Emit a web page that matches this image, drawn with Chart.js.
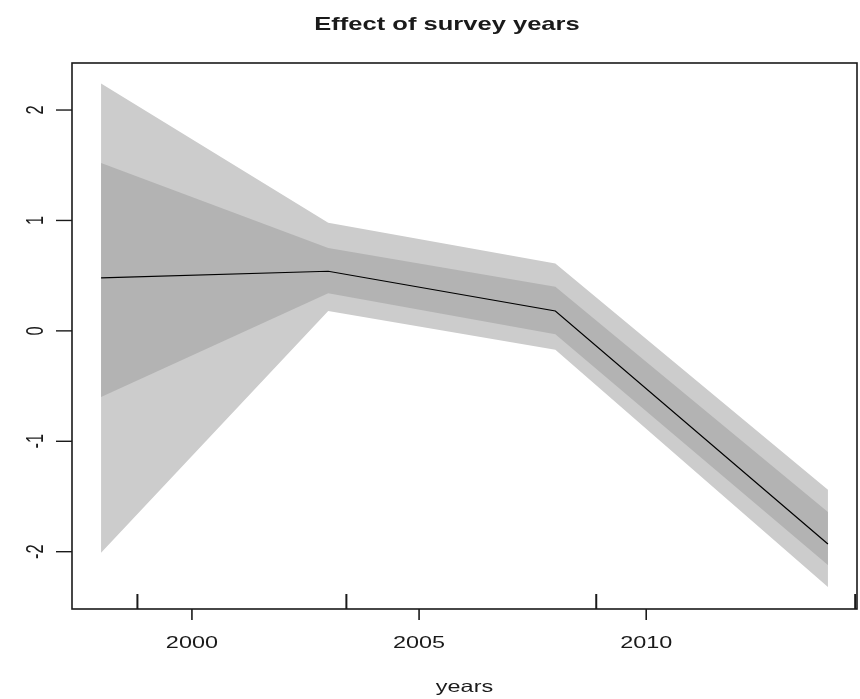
<!DOCTYPE html>
<html>
<head>
<meta charset="utf-8">
<script src="https://cdn.jsdelivr.net/npm/chart.js@4.4.1/dist/chart.umd.min.js"></script>
<style>
  html, body { margin: 0; padding: 0; background: #ffffff; }
  #wrap { width: 860px; height: 699px; position: relative; }
</style>
</head>
<body>
<div id="wrap"><canvas id="c" width="860" height="699"></canvas></div>
<script>
// Survey years and the estimated effect with two confidence bands
const years      = [1998, 2003, 2008, 2014];
const effect     = [0.48, 0.54, 0.18, -1.93];
const innerUpper = [1.52, 0.75, 0.40, -1.64];
const innerLower = [-0.60, 0.34, -0.03, -2.12];
const outerUpper = [2.24, 0.98, 0.61, -1.44];
const outerLower = [-2.01, 0.18, -0.17, -2.32];
// Rug marks along the bottom axis
const rugYears   = [1998.8, 2003.4, 2008.9, 2014.6];
// Axis ticks
const xTicks     = [2000, 2005, 2010];
const yTicks     = [-2, -1, 0, 1, 2];

const title  = 'Effect of survey years';
const xTitle = 'years';

const pts = arr => years.map((yr, i) => ({ x: yr, y: arr[i] }));

const FONT = '"Liberation Sans", Arial, Helvetica, sans-serif';
const SX = 1.42;          // horizontal text stretch
const INK = '#1a1a1a';

function stretchedText(ctx, txt, x, y, sx) {
  ctx.save();
  ctx.translate(x, y);
  ctx.scale(sx, 1);
  ctx.fillText(txt, 0, 0);
  ctx.restore();
}

const frame = {
  id: 'frame',
  afterDraw(chart) {
    const ctx = chart.ctx;
    const a = chart.chartArea;
    const xs = chart.scales.x, ys = chart.scales.y;
    ctx.save();
    ctx.strokeStyle = INK;
    ctx.fillStyle = INK;

    // plot box
    ctx.lineWidth = 1.6;
    ctx.strokeRect(a.left, a.top, a.right - a.left, a.bottom - a.top);

    // x ticks and labels
    ctx.lineWidth = 1.6;
    ctx.font = '16.5px ' + FONT;
    ctx.textAlign = 'center';
    ctx.textBaseline = 'middle';
    xTicks.forEach(v => {
      const px = xs.getPixelForValue(v);
      ctx.beginPath();
      ctx.moveTo(px, a.bottom);
      ctx.lineTo(px, a.bottom + 11);
      ctx.stroke();
      stretchedText(ctx, String(v), px, 643, SX);
    });

    // rug marks
    ctx.lineWidth = 2;
    rugYears.forEach(v => {
      const px = Math.min(xs.getPixelForValue(v), a.right);
      ctx.beginPath();
      ctx.moveTo(px, a.bottom);
      ctx.lineTo(px, a.bottom - 15);
      ctx.stroke();
    });

    // y ticks and rotated labels
    ctx.lineWidth = 1.4;
    yTicks.forEach(v => {
      const py = ys.getPixelForValue(v);
      ctx.beginPath();
      ctx.moveTo(a.left - 16, py);
      ctx.lineTo(a.left, py);
      ctx.stroke();
      ctx.save();
      ctx.translate(37, py);
      ctx.scale(SX, 1);
      ctx.rotate(-Math.PI / 2);
      ctx.fillText(String(v), 0, 0);
      ctx.restore();
    });

    // axis title
    stretchedText(ctx, xTitle, (a.left + a.right) / 2, 687, SX);

    // main title
    ctx.font = 'bold 18.5px ' + FONT;
    stretchedText(ctx, title, 447, 25, 1.38);
    ctx.restore();
  }
};

new Chart(document.getElementById('c'), {
  type: 'line',
  data: {
    datasets: [
      { data: pts(effect), borderColor: '#000000', borderWidth: 1.2, pointRadius: 0, fill: false, tension: 0 },
      { data: pts(innerUpper), borderWidth: 0, borderColor: 'rgba(0,0,0,0)', backgroundColor: '#b3b3b3', pointRadius: 0, fill: '+1', tension: 0 },
      { data: pts(innerLower), borderWidth: 0, borderColor: 'rgba(0,0,0,0)', pointRadius: 0, fill: false, tension: 0 },
      { data: pts(outerUpper), borderWidth: 0, borderColor: 'rgba(0,0,0,0)', backgroundColor: '#cccccc', pointRadius: 0, fill: '+1', tension: 0 },
      { data: pts(outerLower), borderWidth: 0, borderColor: 'rgba(0,0,0,0)', pointRadius: 0, fill: false, tension: 0 }
    ]
  },
  options: {
    responsive: false,
    animation: false,
    layout: { padding: { left: 72, top: 63, right: 3, bottom: 90 } },
    scales: {
      x: { type: 'linear', display: false, min: 1997.36, max: 2014.64 },
      y: { type: 'linear', display: false, min: -2.519, max: 2.426 }
    },
    plugins: {
      legend: { display: false },
      tooltip: { enabled: false },
      title: { display: false }
    }
  },
  plugins: [frame]
});
</script>
</body>
</html>
